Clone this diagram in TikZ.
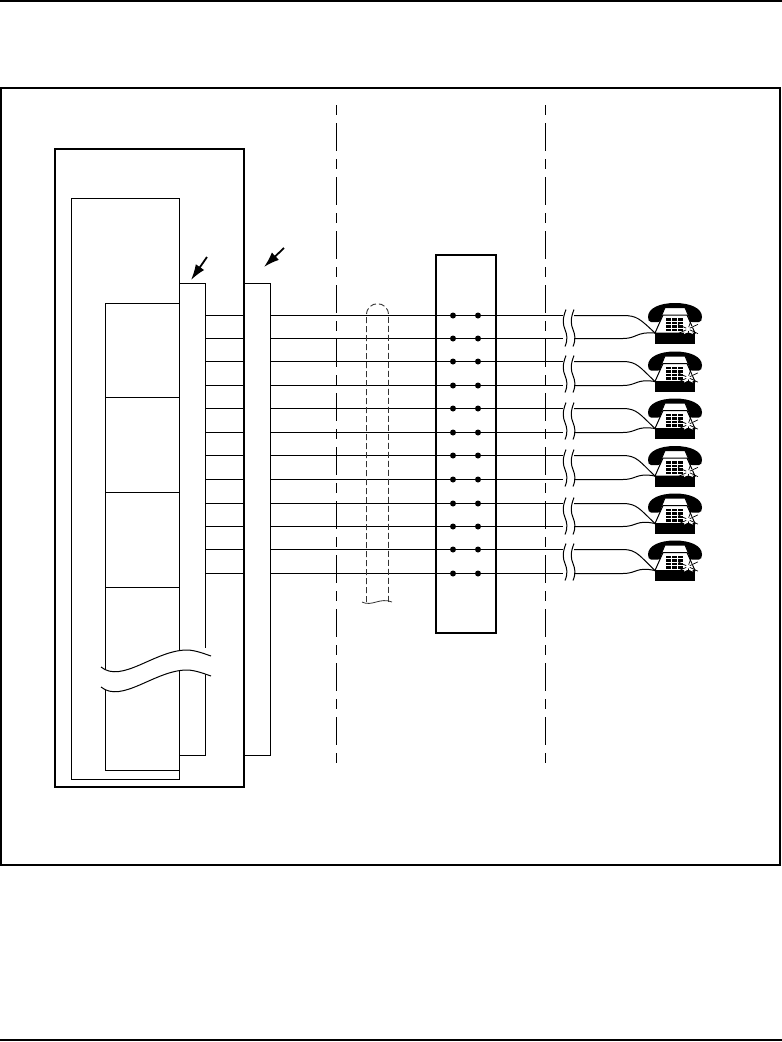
\documentclass[tikz,border=0pt]{standalone}
\usepackage{tikz}
\usetikzlibrary{arrows.meta,positioning}
\tikzset{
  box/.style={draw=black, fill=white, anchor=north west, inner sep=0pt, outer sep=0pt, line width=1pt},
  thickbox/.style={box, line width=2.5pt},
  panelbox/.style={draw=black, anchor=north west, inner sep=0pt, outer sep=0pt, line width=2pt},
  wire/.style={line width=1pt},
  rule/.style={line width=1.5pt},
  boundary/.style={line width=1pt, dash pattern=on 10pt off 8pt on 28pt off 8pt},
  cable/.style={draw=black!80, line width=0.9pt, dash pattern=on 6pt off 3pt},
  arrow/.style={-{Latex[length=5.5mm,width=3.6mm]}, line width=1.8pt},
  dot/.style={circle, fill=black, minimum size=6pt, inner sep=0pt},
  phone/.pic={
    \fill[black] (-27,14) .. controls (-27,5) and (-15,0) .. (0,0) .. controls (15,0) and (27,5) .. (27,14) .. controls (27,17) and (26,19) .. (24,19) -- (17,19) .. controls (14,19) and (13,16) .. (13,11) -- (-13,11) .. controls (-13,16) and (-14,19) .. (-17,19) -- (-24,19) .. controls (-26,19) and (-27,17) .. (-27,14) -- cycle;
    \draw[fill=white, line width=1pt] (-14,14) -- (-10,4.5) -- (10,4.5) -- (14,14);
    \draw[fill=white, line width=1pt] (-12,12) -- (-20,30) -- (20,30) -- (12,12) -- cycle;
    \fill[black] (-20,30) rectangle (20,40.5);
    \foreach \r in {0,1,2,3} {
      \foreach \c in {0,1,2} {
        \fill[black] (-9+\c*6,15+\r*3.5) rectangle ++(5,2.5);
      }
    }
    \fill[white] (9,22) -- (13,24) -- (18,23) -- (16,27) -- (18,31) -- (13,29) -- (9,31) -- (10,27) -- cycle;
    \foreach \a in {-70,-25,25,80,155,205} {
      \draw[line width=0.7pt] (13,26) -- ++(\a:11);
    }
    \fill[white] (13,26) circle (2);
  }
}
\begin{document}
\begin{tikzpicture}[x=1pt, y=-1pt, node distance=0pt]
\useasboundingbox (0,0) rectangle (782,1042);
% page rules and frame
\draw[rule] (0,1) -- (782,1);
\draw[rule] (0,1040) -- (782,1040);
\draw[line width=2pt] (1,88) rectangle (780,864.5);
% cabinet
\node[thickbox, minimum width=189pt, minimum height=638pt] (cabinet) at (55,149) {};
\node[box, minimum width=108pt, minimum height=580.5pt] (shelf) at (71.5,198.5) {};
\node[box, minimum width=74pt, minimum height=94.5pt] (cardA) at (105.5,303) {};
\node[box, minimum width=74pt, minimum height=95pt, below=of cardA] (cardB) {};
\node[box, minimum width=74pt, minimum height=95pt, below=of cardB] (cardC) {};
\node[box, minimum width=74pt, minimum height=183pt, below=of cardC] (cardD) {};
\node[box, minimum width=26pt, minimum height=472pt] (connector) at (179.5,283.5) {};
\node[box, minimum width=26pt, minimum height=472pt] (block) at (244.5,283.5) {};
% break across the cards
\fill[white] (101,667) .. controls (122,684) and (155,650) .. (187,650) .. controls (195,650) and (205,654) .. (211,656) -- (211,676) .. controls (205,674) and (195,670) .. (187,670) .. controls (155,670) and (122,704) .. (101,687) -- cycle;
\fill[white] (203,648) rectangle (207,668);
\draw[wire] (101,667) .. controls (122,684) and (155,650) .. (187,650) .. controls (195,650) and (205,654) .. (211,656);
\draw[wire] (101,687) .. controls (122,704) and (155,670) .. (187,670) .. controls (195,670) and (205,674) .. (211,676);
% arrows
\coordinate (arrowAfrom) at (207,257);
\coordinate (arrowAto) at (191,280);
\coordinate (arrowBfrom) at (284,248);
\coordinate (arrowBto) at (264,267);
\draw[arrow] (arrowAfrom) -- (arrowAto);
\draw[arrow] (arrowBfrom) -- (arrowBto);
% boundaries
\coordinate (leftTop) at (336.5,105);
\coordinate (leftBottom) at (336.5,764);
\coordinate (rightTop) at (545.5,105);
\coordinate (rightBottom) at (545.5,764);
\draw[boundary] (leftTop) -- (leftBottom);
\draw[boundary] (rightTop) -- (rightBottom);
% distribution panel
\node[panelbox, minimum width=60pt, minimum height=378pt] (panel) at (436,254.5) {};
% wires
\foreach \i/\ya/\yb/\yp in {1/315.5/338.5/303, 2/361.5/385.5/351.5, 3/408.5/432.5/398.5, 4/455.5/479.5/446, 5/503.5/526.5/493.5, 6/549.5/573.5/540.5} {
  \coordinate (hi\i) at (0,\ya);
  \coordinate (lo\i) at (0,\yb);
  \coordinate (brkL\i) at (563,0);
  \coordinate (brkR\i) at (574,0);
  \coordinate (set\i) at (655,\yp+30);
  \foreach \w in {hi,lo} {
    \draw[wire] (connector.east |- \w\i) -- (block.west |- \w\i);
    \draw[wire] (block.east |- \w\i) -- (brkL\i |- \w\i);
    \node[dot] (dA\w\i) at (453,0 |- \w\i) {};
    \node[dot] (dB\w\i) at (478,0 |- \w\i) {};
  }
  \draw[wire] (brkR\i |- hi\i) -- (623,\ya) .. controls (637,\ya) and (640,\yp+16) .. (set\i);
  \draw[wire] (brkR\i |- lo\i) -- (623,\yb) .. controls (637,\yb) and (636,\yb-7) .. (set\i);
  \foreach \dx in {0,8} {
    \draw[wire] (566+\dx,\ya-6) .. controls (562+\dx,\ya+4) and (563+\dx,\ya+9) .. (565+\dx,\ya+14) .. controls (567+\dx,\ya+19) and (568+\dx,\ya+24) .. (565+\dx,\ya+31);
  }
  \pic at (675,\yp) {phone};
}
% cable
\coordinate (cableL) at (366.5,602);
\coordinate (cableR) at (388.5,602);
\draw[cable] (cableL) -- (366.5,315) .. controls (366.5,300) and (388.5,300) .. (388.5,315) -- (cableR);
\draw[line width=0.8pt, draw=black!80] (362,602) .. controls (372,607) and (380,597) .. (392,602);
\end{tikzpicture}
\end{document}
